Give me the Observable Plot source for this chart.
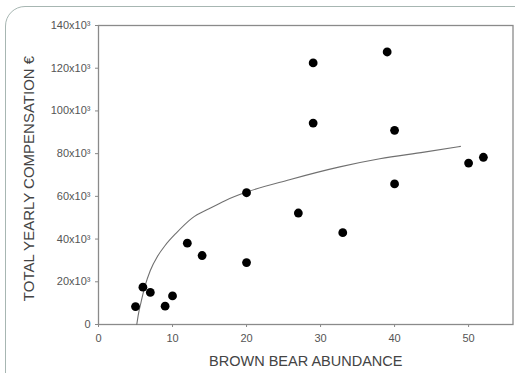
<!DOCTYPE html>
<html>
<head>
<meta charset="utf-8">
<script src="https://cdn.jsdelivr.net/npm/d3@7"></script>
<script src="https://cdn.jsdelivr.net/npm/@observablehq/plot@0.6"></script>
<style>
  html, body { margin: 0; padding: 0; background: #fff; }
  #wrap { position: relative; width: 515px; height: 373px; overflow: hidden; }
  #border { position: absolute; left: 5px; top: 6px; width: 530px; height: 400px;
            border: 1.5px solid #a7b6b2; border-radius: 20px; box-sizing: border-box; }
  #chart { position: absolute; left: 0; top: 0; }
</style>
</head>
<body>
<div id="wrap"><div id="border"></div><div id="chart"></div></div>
<script>
// Observed points: brown bear abundance vs total yearly compensation (€)
const abundance = [5, 6, 7, 9, 10, 12, 14, 20, 20, 27, 33, 40, 29, 39, 29, 40, 50, 52];
const compensation = [8400, 17500, 15000, 8600, 13400, 38100, 32300, 29000, 61700, 52200, 43000, 65800, 122500, 127600, 94300, 90900, 75600, 78300];

// Fitted curve
const fitX = [5.17, 5.4, 5.75, 6.3, 7, 8, 9, 10.5, 12.6, 15, 17.1, 20, 25.8, 32.6, 38, 44, 48.9];
const fitY = [0, 5000, 10500, 18200, 25300, 32100, 37000, 42800, 49700, 54300, 58000, 62000, 67800, 73800, 77600, 80700, 83400];

const xTicks = [0, 10, 20, 30, 40, 50];
const yTicks = [0, 20000, 40000, 60000, 80000, 100000, 120000, 140000];
const xLabel = "BROWN BEAR ABUNDANCE";
const yLabel = "TOTAL YEARLY COMPENSATION €";

const points = abundance.map((x, i) => ({x, y: compensation[i]}));
const fit = fitX.map((x, i) => ({x, y: fitY[i]}));

const font = "'Liberation Sans', Arial, Helvetica, sans-serif";

const chart = Plot.plot({
  width: 515,
  height: 373,
  marginLeft: 98,
  marginRight: 2.5,
  marginTop: 25,
  marginBottom: 49,
  style: {fontFamily: font, background: "transparent", overflow: "visible"},
  x: {domain: [0, 56]},
  y: {domain: [0, 140000]},
  marks: [
    Plot.axisX({ticks: xTicks, tickSize: 3, tickPadding: 7, fontSize: 11, color: "#555",
      stroke: "#888", label: null, tickFormat: d => String(d)}),
    Plot.axisY({ticks: yTicks, tickSize: 3, tickPadding: 5, fontSize: 11, color: "#555",
      stroke: "#888", label: null, tickFormat: d => d === 0 ? "0" : `${d / 1000}x10³`}),
    Plot.frame({stroke: "#8a8a8a", strokeWidth: 1.3}),
    Plot.line(fit, {x: "x", y: "y", curve: "monotone-x", stroke: "#707070", strokeWidth: 1.1}),
    Plot.dot(points, {x: "x", y: "y", r: 4.4, fill: "#000", stroke: "none"}),
    Plot.text([xLabel], {frameAnchor: "bottom", dy: 37, text: d => d, fontSize: 14.5,
      fill: "#444", textAnchor: "middle", lineAnchor: "middle"}),
    Plot.text([yLabel], {frameAnchor: "left", dx: -69, dy: 3.5, rotate: -90, text: d => d,
      fontSize: 15, fill: "#444", textAnchor: "middle", lineAnchor: "middle"})
  ]
});
document.getElementById("chart").appendChild(chart);
</script>
</body>
</html>
